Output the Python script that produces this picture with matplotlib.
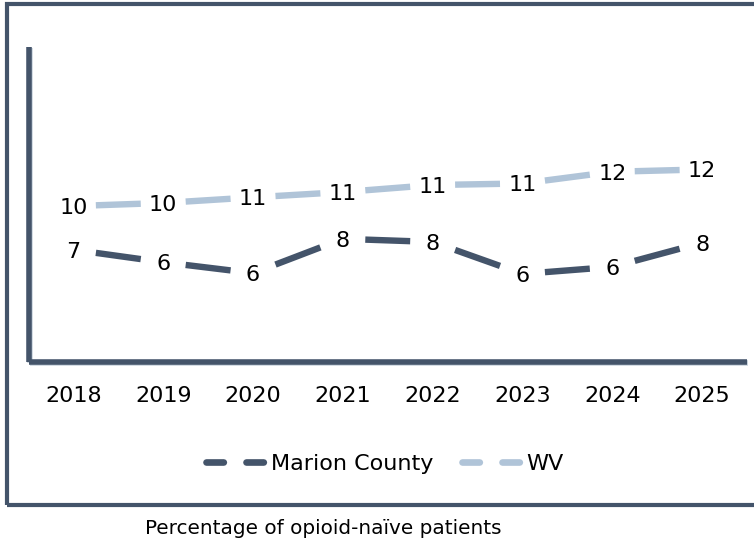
import matplotlib
matplotlib.use('Agg')
import matplotlib.pyplot as plt
import numpy as np
from matplotlib.lines import Line2D
from matplotlib.patches import Rectangle
import matplotlib.patheffects as pe

years = ['2018', '2019', '2020', '2021', '2022', '2023', '2024', '2025']
marion = [7.2, 6.4, 5.7, 7.9, 7.7, 5.65, 6.1, 7.65]
wv = [10.0, 10.2, 10.56, 10.9, 11.35, 11.45, 12.2, 12.35]
series_names = ['Marion County', 'WV']
colors = ['#44546A', '#B0C4D8']
footer = 'Percentage of opioid-naïve patients'

plt.rcParams['font.family'] = ['DejaVu Sans']

fig = plt.figure(figsize=(7.54, 5.43), dpi=100)
ax = fig.add_axes([0.0378, 0.3333, 0.9529, 0.5801])
x = np.arange(len(years))

for vals, col in zip([marion, wv], colors):
    v = np.asarray(vals, dtype=float)
    for i in range(len(x) - 1):
        xs = np.array([x[i] + 0.25, x[i + 1] - 0.25])
        ys = np.interp(xs, x, v)
        ax.plot(xs, ys, color=col, lw=4.6, solid_capstyle='butt')
    for xi, vi in zip(x, v):
        ax.text(xi, vi, f'{vi:.0f}', ha='center', va='center_baseline',
                fontsize=16, color='black')

ax.set_xlim(-0.5, len(years) - 0.5)
ax.set_ylim(0, 20.2)
ax.set_xticks(x)
ax.set_xticklabels(years)
ax.set_yticks([])
ax.tick_params(axis='x', length=0, labelsize=16, pad=17)
for s in ['top', 'right']:
    ax.spines[s].set_visible(False)
for s in ['left', 'bottom']:
    sp = ax.spines[s]
    sp.set_linewidth(4)
    sp.set_color('#44546A')
    sp.set_capstyle('butt')
    sp.set_path_effects([
        pe.SimpleLineShadow(offset=(0.8, -0.8), shadow_color='#C9D3DD', alpha=1),
        pe.Normal()])
ax.patch.set_visible(False)

handles = [Line2D([], [], color=c, lw=4.8, linestyle=(0, (2.6, 3.4)),
                  dash_capstyle='round') for c in colors]
fig.legend(handles, series_names, loc='center',
           bbox_to_anchor=(385 / 754, 1 - 464 / 543), ncol=2, frameon=False,
           fontsize=16, handlelength=2.8, handletextpad=0.1, columnspacing=1.3)

fig.text(323 / 754, 1 - 528 / 543, footer, ha='center', va='center', fontsize=14.4)

fig.patches.append(Rectangle((7 / 754, 1 - 504.5 / 543), 1.0, (504.5 - 3.5) / 543,
                             transform=fig.transFigure, fill=False,
                             ec='#44546A', lw=3, zorder=0))

fig.savefig('out.png', dpi=100)
